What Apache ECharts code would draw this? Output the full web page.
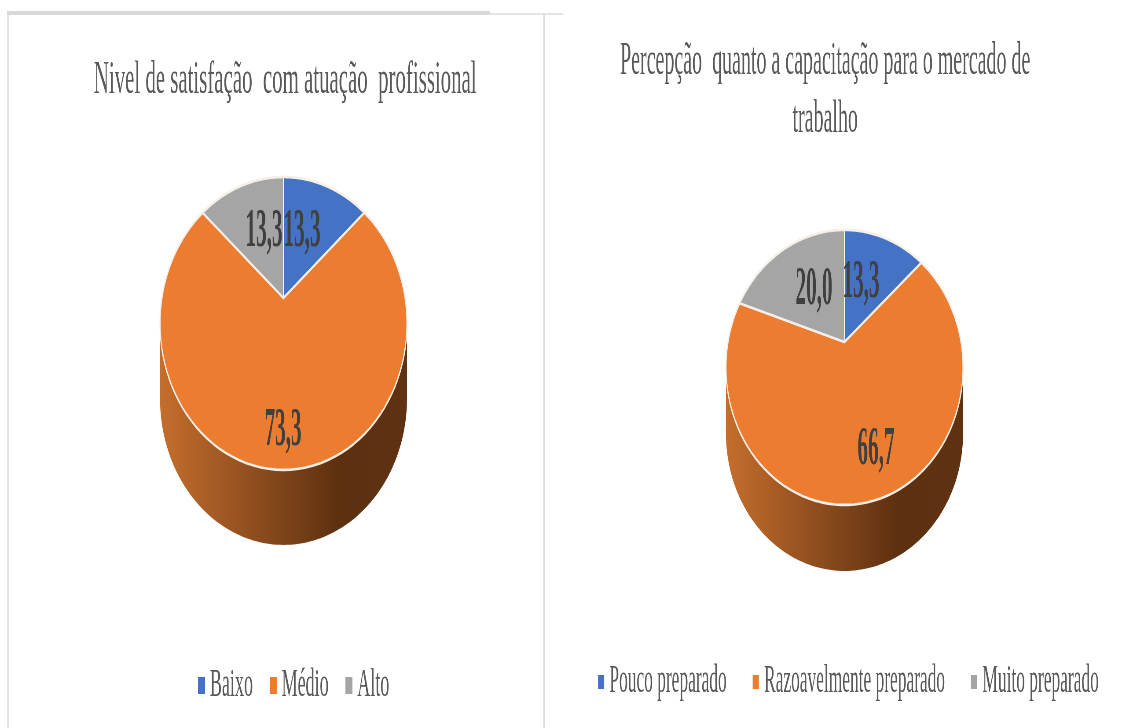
<!DOCTYPE html>
<html lang="pt">
<head>
<meta charset="utf-8">
<style>
html,body{margin:0;padding:0;width:1133px;height:728px;overflow:hidden;background:#fff}
#chart{width:2575px;height:728px;transform:scaleX(.44);transform-origin:0 0}
</style>
<script src="https://cdn.jsdelivr.net/npm/echarts@6/dist/echarts.min.js"></script>
</head>
<body>
<div id="chart"></div>
<script>
// ---- data ----
const leftCategories = ['Baixo', 'Médio', 'Alto'];
const leftValues = [13.3, 73.3, 13.3];
const rightCategories = ['Pouco preparado', 'Razoavelmente preparado', 'Muito preparado'];
const rightValues = [13.3, 66.7, 20.0];
const leftTitle = 'Nivel de satisfação  com atuação  profissional';
const rightTitle = 'Percepção  quanto a capacitação para o mercado de\ntrabalho';
const sliceColors = ['#4472C4', '#EB7C30', '#A5A5A5'];

// ---- layout (page pixels; the canvas is squeezed horizontally by SX) ----
const SX = 0.44;
const px = x => x / SX;
const leftPie = {cx: 283.5, cy: 298, w: 121.6, h: 142, k: 0.174, depth: 75,
  labels: [[302, 232], [283, 431], [264, 232]]};
const rightPie = {cx: 844.5, cy: 342, w: 116.5, h: 132.8, k: 0.185, depth: 66,
  labels: [[861, 283], [876, 450], [814, 290]]};

// perspective projection of a point on the pie's rim/radius
function project(pie, angle, r) {
  const x = r * Math.sin(angle), y = r * Math.cos(angle);
  const d = 1 + pie.k * y;
  return [px(pie.cx + pie.w * x / d), pie.cy - pie.h * y / d];
}

function sliceSeries(pie, values, names, i) {
  const total = values.reduce((a, b) => a + b, 0);
  const before = values.slice(0, i).reduce((a, b) => a + b, 0);
  return {
    type: 'custom', name: names[i], coordinateSystem: 'none', z: 3,
    itemStyle: {color: sliceColors[i]},
    data: [[values[i]]],
    renderItem: (params, api) => {
      const a0 = before / total * 2 * Math.PI;
      const a1 = (before + api.value(0)) / total * 2 * Math.PI;
      const pts = [project(pie, 0, 0)];
      const n = 90;
      for (let j = 0; j <= n; j++) pts.push(project(pie, a0 + (a1 - a0) * j / n, 1));
      const lab = pie.labels[i];
      return {type: 'group', children: [
        {type: 'polygon', shape: {points: pts},
         style: {fill: sliceColors[i], stroke: '#f4efe9', lineWidth: 2.6, lineJoin: 'round'}},
        {type: 'text', z2: 10, x: px(lab[0]), y: lab[1], scaleX: 0.89, style: {
          text: api.value(0).toFixed(1).replace('.', ','),
          x: 0, y: 0, align: 'center', verticalAlign: 'middle',
          font: 'bold 54px "Liberation Serif"', fill: '#404040'}}
      ]};
    }
  };
}

function wallSeries(pie) {
  return {
    type: 'custom', name: 'wall', coordinateSystem: 'none', z: 2, silent: true,
    data: [[1]],
    renderItem: () => {
      const side = Math.acos(-pie.k);
      const start = side, end = 2 * Math.PI - side;
      const top = [], bottom = [];
      const n = 120;
      for (let j = 0; j <= n; j++) {
        const p = project(pie, start + (end - start) * j / n, 1);
        top.push(p);
        bottom.unshift([p[0], p[1] + pie.depth]);
      }
      return {type: 'polygon', shape: {points: top.concat(bottom)},
        style: {fill: new echarts.graphic.LinearGradient(0, 0, 1, 0, [
          {offset: 0, color: '#C56E2C'},
          {offset: 0.38, color: '#8F4E1F'},
          {offset: 0.73, color: '#5D300F'},
          {offset: 1, color: '#5F3312'}
        ])}};
    }
  };
}

const line = (x1, y1, x2, y2, width, color) => ({
  type: 'line', silent: true,
  shape: {x1: px(x1), y1, x2: px(x2), y2},
  style: {stroke: color, lineWidth: width}
});

const chart = echarts.init(document.getElementById('chart'), null, {renderer: 'canvas'});
chart.setOption({
  animation: false,
  backgroundColor: '#fff',
  title: [
    {text: leftTitle, left: px(283), top: 52, textAlign: 'center',
     textStyle: {fontFamily: '"Liberation Serif"', fontWeight: 'normal', fontSize: 47.4, color: '#595959'}},
    {text: rightTitle, left: px(823), top: 28, textAlign: 'center',
     textStyle: {fontFamily: '"Liberation Serif"', fontWeight: 'normal', fontSize: 45.4, lineHeight: 58, color: '#595959'}}
  ],
  legend: [
    {data: leftCategories, left: px(198), top: 665, padding: 0, icon: 'rect', itemWidth: 16, itemHeight: 17, itemGap: 38,
     textStyle: {fontFamily: '"Liberation Serif"', fontSize: 41, color: '#595959', padding: [0, 0, 0, 6]}},
    {data: rightCategories, left: px(598), top: 662, padding: 0, icon: 'rect', itemWidth: 14, itemHeight: 14, itemGap: 59,
     textStyle: {fontFamily: '"Liberation Serif"', fontSize: 39.5, color: '#595959', padding: [0, 0, 0, 7]}}
  ],
  graphic: [
    line(7, 13, 490, 13, 4, '#d9d9d9'),
    line(490, 14, 563, 14, 2, '#e4e4e4'),
    line(8, 13, 8, 728, 3, '#d9d9d9'),
    line(544, 14, 544, 728, 3, '#d9d9d9')
  ],
  series: [
    wallSeries(leftPie),
    ...leftValues.map((_, i) => sliceSeries(leftPie, leftValues, leftCategories, i)),
    wallSeries(rightPie),
    ...rightValues.map((_, i) => sliceSeries(rightPie, rightValues, rightCategories, i))
  ]
});
</script>
</body>
</html>
